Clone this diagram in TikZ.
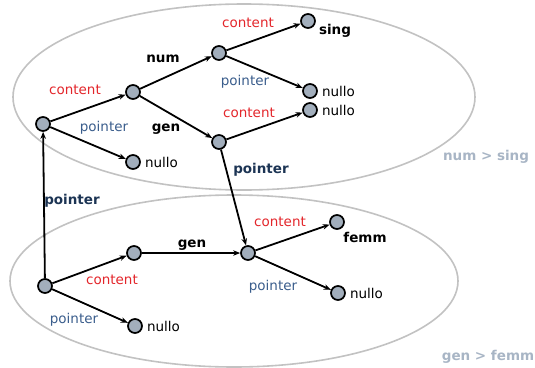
\documentclass[tikz,border=0pt]{standalone}
\usepackage{fontspec}
\setmainfont{DejaVu Sans}
\usetikzlibrary{arrows.meta}

\definecolor{contentred}{HTML}{E3262B}
\definecolor{pointerblue}{HTML}{3A5D8C}
\definecolor{pointernavy}{HTML}{1C3454}
\definecolor{nodegray}{HTML}{A2AEBC}
\definecolor{setgray}{HTML}{C2C2C2}
\definecolor{settext}{HTML}{A8B5C5}
\newcommand{\lblsize}{\fontsize{13.5}{16}\selectfont}

\begin{document}
\begin{tikzpicture}[->, >={Stealth[length=7pt, width=5.5pt]}, x=1pt, y=-1pt, line width=1.8pt,
        main node/.style={circle, draw, fill=nodegray, minimum size=14pt, inner sep=0pt, line width=1.7pt},
        leaf node/.style={main node, label={[font=\lblsize, label distance=0pt]right:nullo}},
        content lbl/.style={text=contentred, font=\lblsize},
        pointer lbl/.style={text=pointerblue, font=\lblsize},
        link lbl/.style={text=pointernavy, font=\lblsize\bfseries},
        field lbl/.style={font=\lblsize\bfseries},
        set lbl/.style={text=settext, font=\lblsize\bfseries}]
    \useasboundingbox (0,0) rectangle (535,367);

    % Insiemi
    \draw[-, setgray, line width=1.6pt] (244,97) ellipse [x radius=231pt, y radius=93pt];
    \draw[-, setgray, line width=1.6pt] (234,281) ellipse [x radius=224pt, y radius=86pt];
    \node[set lbl] (numset) at (486,157) {num > sing};
    \node[set lbl] (genset) at (488,357) {gen > femm};

    % Nodi
    \node[main node] (a) at (43,124) {};
    \node[main node] (b) at (133,92) {};
    \node[leaf node] (n1) at (133,162) {};
    \node[main node] (c) at (219,53) {};
    \node[main node] (d) at (219,142) {};
    \node[main node] (s) at (308,21) {};
    \node[leaf node] (n2) at (310,91) {};
    \node[leaf node] (n3) at (310,110) {};
    \node[main node] (e) at (45,286) {};
    \node[main node] (f) at (134,253) {};
    \node[leaf node] (n4) at (135,326) {};
    \node[main node] (g) at (248,253) {};
    \node[main node] (m) at (337,222) {};
    \node[leaf node] (n5) at (338,293) {};
    \node[field lbl] (sing) at (335,31) {sing};
    \node[field lbl] (femm) at (365,237) {femm};

    % Archi
    \path (a) edge (b);
    \path (a) edge (n1);
    \path (b) edge (c);
    \path (b) edge (d);
    \path (c) edge (s);
    \path (c) edge (n2);
    \path (d) edge (n3);
    \path (d) edge (g);
    \path (e) edge (a);
    \path (e) edge (f);
    \path (e) edge (n4);
    \path (f) edge (g);
    \path (g) edge (m);
    \path (g) edge (n5);

    % Etichette
    \node[content lbl] (ab) at (75,90) {content};
    \node[pointer lbl] (an1) at (104,128) {pointer};
    \node[field lbl] (bc) at (163,59) {num};
    \node[field lbl] (bd) at (166,129) {gen};
    \node[content lbl] (cs) at (248,23) {content};
    \node[pointer lbl] (cn2) at (245,82) {pointer};
    \node[content lbl] (dn3) at (249,113) {content};
    \node[link lbl] (dg) at (261,170) {pointer};
    \node[link lbl] (ea) at (72,201) {pointer};
    \node[content lbl] (ef) at (112,280) {content};
    \node[pointer lbl] (en4) at (74,320) {pointer};
    \node[field lbl] (fg) at (192,245) {gen};
    \node[content lbl] (gm) at (280,222) {content};
    \node[pointer lbl] (gn5) at (273,287) {pointer};
\end{tikzpicture}
\end{document}
